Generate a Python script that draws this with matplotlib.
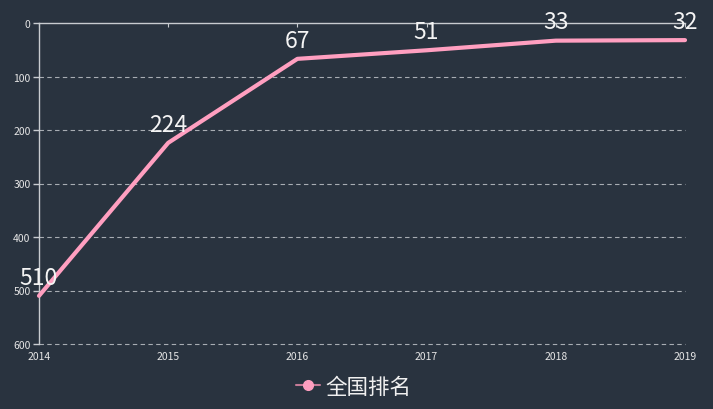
import matplotlib.pyplot as plt

plt.rcParams['font.family'] = ['Noto Sans CJK SC', 'DejaVu Sans']

# datos
years = ['2014', '2015', '2016', '2017', '2018', '2019']
ranks = [510, 224, 67, 51, 33, 32]
series_name = '全国排名'

bg = '#29333f'
pink = '#ff9fc0'
axis_color = '#c8ccd0'

fig = plt.figure(figsize=(7.13, 4.10), dpi=100, facecolor=bg)
ax = fig.add_axes([39 / 713, 65 / 410, 646 / 713, 321 / 410], facecolor=bg)

x = list(range(len(years)))
ax.plot(x, ranks, color=pink, linewidth=3, solid_capstyle='round',
        solid_joinstyle='round', label=series_name, clip_on=False, zorder=3)

for xi, v in zip(x, ranks):
    ax.annotate(str(v), (xi, v), xytext=(0, 13.5), textcoords='offset points',
                ha='center', va='center', color='#f4f4f4', fontsize=16.5,
                annotation_clip=False, zorder=4)

ax.set_xlim(0, len(years) - 1)
ax.set_ylim(600, 0)
ax.set_xticks(x)
ax.set_xticklabels(years)
ax.set_yticks(range(0, 601, 100))

# grid
for v in range(100, 601, 100):
    ax.axhline(v, color='#a8adb3', linewidth=0.8, linestyle=(0, (4, 3)),
               zorder=1, clip_on=False)

for side in ['right', 'bottom']:
    ax.spines[side].set_visible(False)
for side in ['left', 'top']:
    ax.spines[side].set_color(axis_color)
    ax.spines[side].set_linewidth(1)

ax.tick_params(axis='y', colors=axis_color, labelsize=7.5, length=4, width=1,
               labelcolor='#e6e6e6', pad=2)
ax.tick_params(axis='x', bottom=False, top=True, direction='in', length=3,
               colors=axis_color, labelsize=7.5, labelcolor='#e6e6e6', pad=5)

leg = ax.legend(loc='center', bbox_to_anchor=(354 / 713, 22 / 410),
                bbox_transform=fig.transFigure, frameon=False, fontsize=15.5,
                handlelength=1.1, handletextpad=0.25, borderpad=0)
h = leg.legend_handles[0]
h.set_marker('o')
h.set_markersize(7)
h.set_linewidth(1.5)
h.set_color('#c47a96')
h.set_markerfacecolor(pink)
h.set_markeredgecolor(pink)
for t in leg.get_texts():
    t.set_color('#f0f0f0')

plt.savefig('out.png', dpi=100, facecolor=bg)
